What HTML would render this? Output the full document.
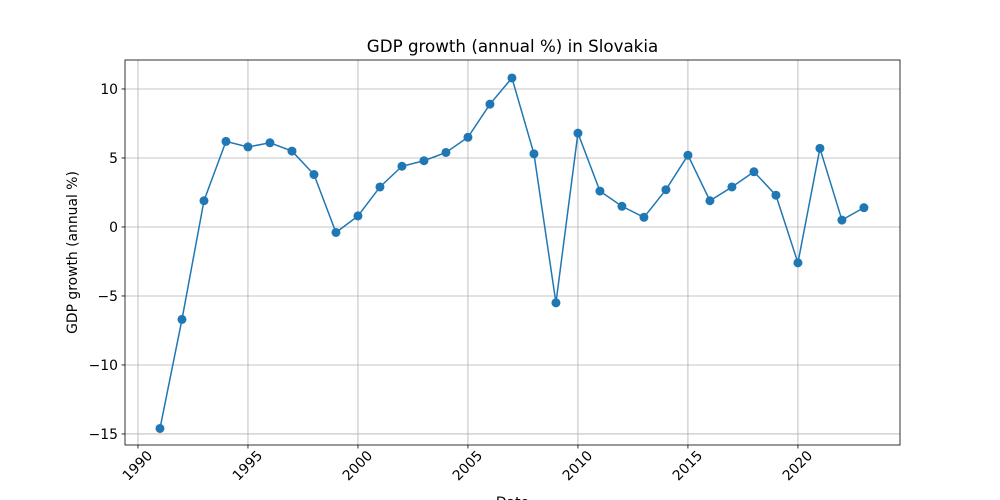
<!DOCTYPE html>
<html><head><meta charset="utf-8"><style>
html,body{margin:0;padding:0;background:#fff;}
svg{display:block;font-family:"DejaVu Sans","Liberation Sans",sans-serif;}
</style></head><body>
<svg id="chart" width="1000" height="500" viewBox="0 0 1000 500"></svg>
<script>
const years=[1991,1992,1993,1994,1995,1996,1997,1998,1999,2000,2001,2002,2003,2004,2005,2006,2007,2008,2009,2010,2011,2012,2013,2014,2015,2016,2017,2018,2019,2020,2021,2022,2023];
const growth=[-14.6,-6.7,1.9,6.2,5.8,6.1,5.5,3.8,-0.4,0.8,2.9,4.4,4.8,5.4,6.5,8.9,10.8,5.3,-5.5,6.8,2.6,1.5,0.7,2.7,5.2,1.9,2.9,4.0,2.3,-2.6,5.7,0.5,1.4];
const xTicks=[1990,1995,2000,2005,2010,2015,2020];
const yTicks=[10,5,0,-5,-10,-15];
const yTickLabels=["10","5","0","\u22125","\u221210","\u221215"];

const L=125,R=900,T=60,B=445;
const xMin=1989.41,xMax=2024.64,yMin=-15.8,yMax=12.1;
const xs=v=>L+(v-xMin)/(xMax-xMin)*(R-L);
const ys=v=>B-(v-yMin)/(yMax-yMin)*(B-T);
const svg=document.getElementById('chart');
const NS='http://www.w3.org/2000/svg';
function mk(tag,attrs,parent){const e=document.createElementNS(NS,tag);for(const k in attrs)e.setAttribute(k,attrs[k]);(parent||svg).appendChild(e);return e;}

const grid=mk('g',{});


xTicks.forEach(t=>{const x=xs(t);
 const g=mk('line',{x1:x,x2:x,y1:T,y2:B,stroke:'#b0b0b0','stroke-width':0.8},grid);
 
 
 mk('line',{x1:x,x2:x,y1:B,y2:B+3.5,stroke:'#000','stroke-width':0.8});
 const cy=B+21;
 const tx=mk('text',{x:x,y:cy+4,'font-size':13.9,'text-anchor':'middle',transform:`rotate(-45 ${x} ${cy})`});
 tx.textContent=t;
 
 
});
yTicks.forEach((t,i)=>{const y=ys(t);
 const g=mk('line',{x1:L,x2:R,y1:y,y2:y,stroke:'#b0b0b0','stroke-width':0.8},grid);
 
 
 mk('line',{x1:L-3.5,x2:L,y1:y,y2:y,stroke:'#000','stroke-width':0.8});
 const tx=mk('text',{x:L-7,y:y+5,'font-size':13.9,'text-anchor':'end'});
 tx.textContent=yTickLabels[i];
 
 
});
const pts=years.map((y,i)=>xs(y)+','+ys(growth[i])).join(' ');
const line=mk('polyline',{points:pts,fill:'none',stroke:'#1f77b4','stroke-width':1.5});


years.forEach((y,i)=>{
 const c=mk('circle',{cx:xs(y),cy:ys(growth[i]),r:4.5,fill:'#1f77b4'});
 
 
});
const frame=mk('rect',{x:L,y:T,width:R-L,height:B-T,fill:'none',stroke:'#000','stroke-width':0.8});


const title=mk('text',{x:(L+R)/2,y:52,'font-size':16.7,'text-anchor':'middle'});
title.textContent='GDP growth (annual %) in Slovakia';


const yl=mk('text',{x:77,y:(T+B)/2,'font-size':13.9,'text-anchor':'middle',transform:`rotate(-90 77 ${(T+B)/2})`});
yl.textContent='GDP growth (annual %)';


const xl=mk('text',{x:(L+R)/2,y:507,'font-size':13.9,'text-anchor':'middle'});
xl.textContent='Date';


</script>
</body></html>
